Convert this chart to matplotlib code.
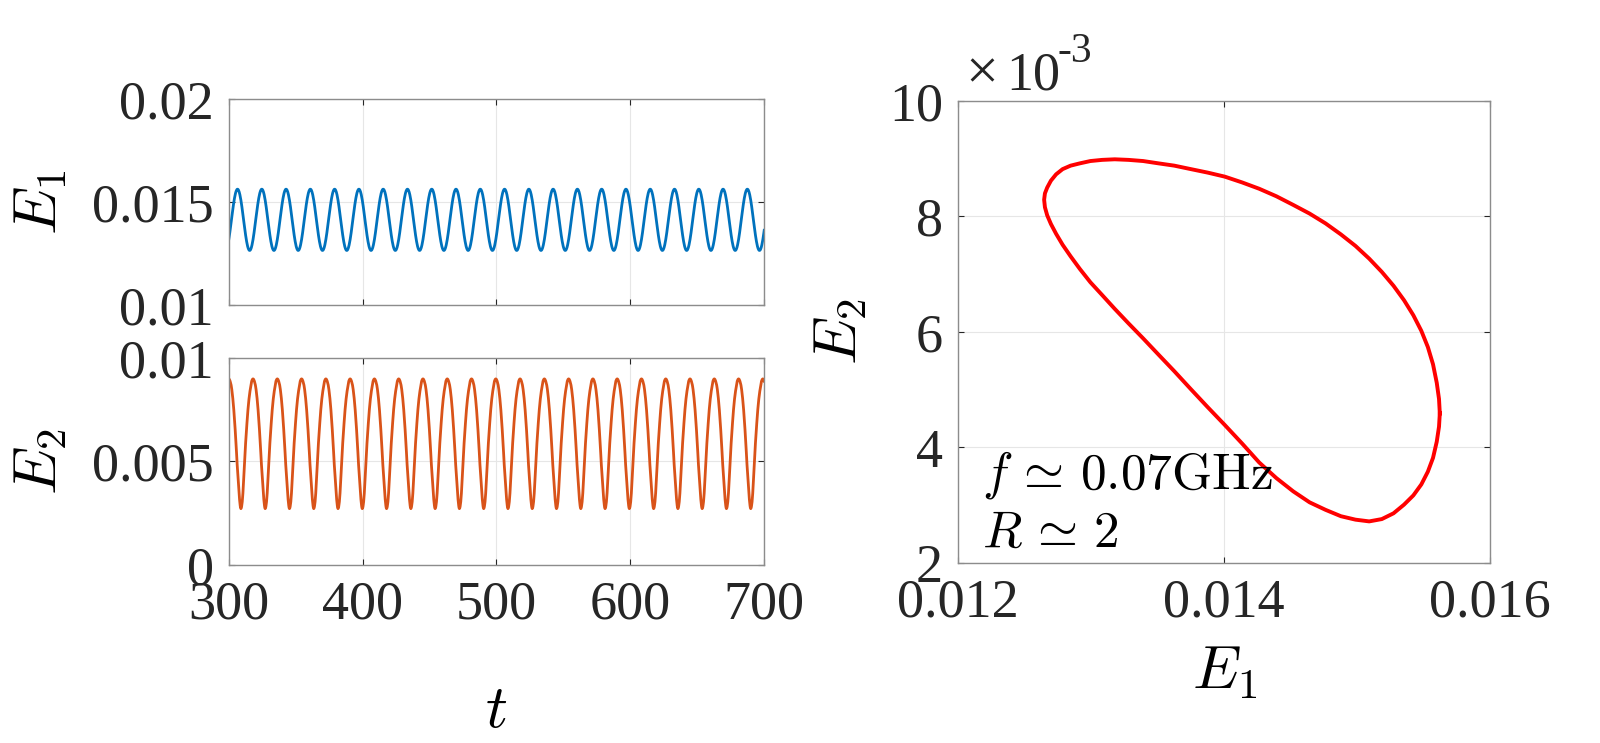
import numpy as np
import matplotlib
matplotlib.use("Agg")
import matplotlib.pyplot as plt

plt.rcParams["font.family"] = ["Liberation Serif", "DejaVu Serif"]
plt.rcParams["mathtext.fontset"] = "cm"

# one period of the limit cycle, 72 samples evenly spaced in time,
# starting at the E1 maximum (values read off the phase portrait)
e1_cycle = [0.015622, 0.015616, 0.015599, 0.015571, 0.015532, 0.015483,
            0.015423, 0.015353, 0.015274, 0.015186, 0.015091, 0.014988,
            0.014878, 0.014763, 0.014643, 0.014520, 0.014393, 0.014264,
            0.014135, 0.014005, 0.013876, 0.013750, 0.013626, 0.013506,
            0.013391, 0.013281, 0.013178, 0.013083, 0.012995, 0.012916,
            0.012846, 0.012786, 0.012737, 0.012698, 0.012670, 0.012653,
            0.012647, 0.012653, 0.012670, 0.012698, 0.012737, 0.012786,
            0.012846, 0.012916, 0.012995, 0.013083, 0.013178, 0.013281,
            0.013391, 0.013506, 0.013626, 0.013750, 0.013876, 0.014005,
            0.014135, 0.014264, 0.014393, 0.014520, 0.014643, 0.014763,
            0.014878, 0.014988, 0.015091, 0.015186, 0.015274, 0.015353,
            0.015423, 0.015483, 0.015532, 0.015571, 0.015599, 0.015616]
e2_cycle = [0.00459, 0.00436, 0.00410, 0.00382, 0.00358, 0.00336,
            0.00317, 0.00301, 0.00286, 0.00276, 0.00272, 0.00275,
            0.00281, 0.00292, 0.00305, 0.00324, 0.00347, 0.00374,
            0.00407, 0.00439, 0.00470, 0.00501, 0.00532, 0.00561,
            0.00589, 0.00615, 0.00640, 0.00664, 0.00686, 0.00709,
            0.00731, 0.00751, 0.00770, 0.00787, 0.00802, 0.00816,
            0.00829, 0.00840, 0.00850, 0.00862, 0.00873, 0.00882,
            0.00888, 0.00892, 0.00896, 0.00898, 0.00899, 0.00898,
            0.00896, 0.00892, 0.00888, 0.00882, 0.00876, 0.00869,
            0.00859, 0.00848, 0.00835, 0.00820, 0.00805, 0.00788,
            0.00769, 0.00749, 0.00727, 0.00704, 0.00680, 0.00655,
            0.00629, 0.00602, 0.00574, 0.00544, 0.00512, 0.00484]
period = 18.15          # time between E1 maxima
t_first_peak = 306.4    # first E1 maximum after t = 300

t_ticks = [300, 400, 500, 600, 700]
e1_ticks = [0.01, 0.015, 0.02]
e1_labels = ["0.01", "0.015", "0.02"]
e2_ticks = [0, 0.005, 0.01]
e2_labels = ["0", "0.005", "0.01"]
px_ticks = [0.012, 0.014, 0.016]
px_labels = ["0.012", "0.014", "0.016"]
py_ticks = [0.002, 0.004, 0.006, 0.008, 0.010]
py_labels = ["2", "4", "6", "8", "10"]

# repeat the cycle over the time window
n_samp = len(e1_cycle)
n_cycles = 24
t = t_first_peak - period + np.arange(n_cycles * n_samp) * period / n_samp
e1 = np.tile(e1_cycle, n_cycles)
e2 = np.tile(e2_cycle, n_cycles)

BLUE = "#0072BD"
ORANGE = "#D95319"
TXT = "#262626"


def style(ax):
    for s in ax.spines.values():
        s.set_color("#8c8c8c")
        s.set_linewidth(1.0)
    ax.tick_params(direction="in", length=4, width=0.8, color=TXT,
                   labelsize=39, labelcolor=TXT, pad=11,
                   top=True, right=True)
    ax.grid(True, color="#e6e6e6", linewidth=0.8)
    ax.set_axisbelow(True)


fig = plt.figure(figsize=(16, 7.43), dpi=100)

ax1 = fig.add_axes([0.1431, 0.5895, 0.3344, 0.2773])
ax2 = fig.add_axes([0.1431, 0.2396, 0.3344, 0.2786])
ax3 = fig.add_axes([0.5988, 0.2423, 0.3325, 0.6218])

# E1(t)
ax1.plot(t, e1, color=BLUE, lw=2.0)
ax1.set_xlim(300, 700)
ax1.set_ylim(0.01, 0.02)
ax1.set_xticks(t_ticks, [])
ax1.set_yticks(e1_ticks, e1_labels)
style(ax1)
ax1.set_ylabel("$E_1$", fontsize=44, va="center")
ax1.yaxis.set_label_coords(-0.35, 0.5)

# E2(t)
ax2.plot(t, e2, color=ORANGE, lw=2.0)
ax2.set_xlim(300, 700)
ax2.set_ylim(0, 0.01)
ax2.set_xticks(t_ticks, [str(v) for v in t_ticks])
ax2.set_yticks(e2_ticks, e2_labels)
style(ax2)
ax2.set_ylabel("$E_2$", fontsize=44, va="center")
ax2.yaxis.set_label_coords(-0.35, 0.5)
ax2.set_xlabel("$t$", fontsize=44, va="center")
ax2.xaxis.set_label_coords(0.5, -0.71)

# phase portrait
ax3.plot(np.append(e1_cycle, e1_cycle[0]), np.append(e2_cycle, e2_cycle[0]),
         color="red", lw=2.8)
ax3.set_xlim(0.012, 0.016)
ax3.set_ylim(0.002, 0.010)
ax3.set_xticks(px_ticks, px_labels)
ax3.set_yticks(py_ticks, py_labels)
style(ax3)
ax3.set_xlabel("$E_1$", fontsize=44, va="center")
ax3.xaxis.set_label_coords(0.5, -0.24)
ax3.set_ylabel("$E_2$", fontsize=44, va="center")
ax3.yaxis.set_label_coords(-0.22, 0.5)

# exponent of the E2 axis
ax3.text(0.013, 1.024, "\u00d7", transform=ax3.transAxes, fontsize=42,
         color=TXT, ha="left", va="baseline")
ax3.text(0.090, 1.024, "10", transform=ax3.transAxes, fontsize=39,
         color=TXT, ha="left", va="baseline")
ax3.text(0.186, 1.084, "-3", transform=ax3.transAxes, fontsize=30,
         color=TXT, ha="left", va="baseline")

ax3.text(0.045, 0.162, r"$f\,\simeq\,0.07\mathrm{GHz}$", transform=ax3.transAxes,
         fontsize=37, ha="left", va="baseline")
ax3.text(0.045, 0.035, r"$R\,\simeq\,2$", transform=ax3.transAxes,
         fontsize=37, ha="left", va="baseline")

fig.savefig("out.png", dpi=100)
